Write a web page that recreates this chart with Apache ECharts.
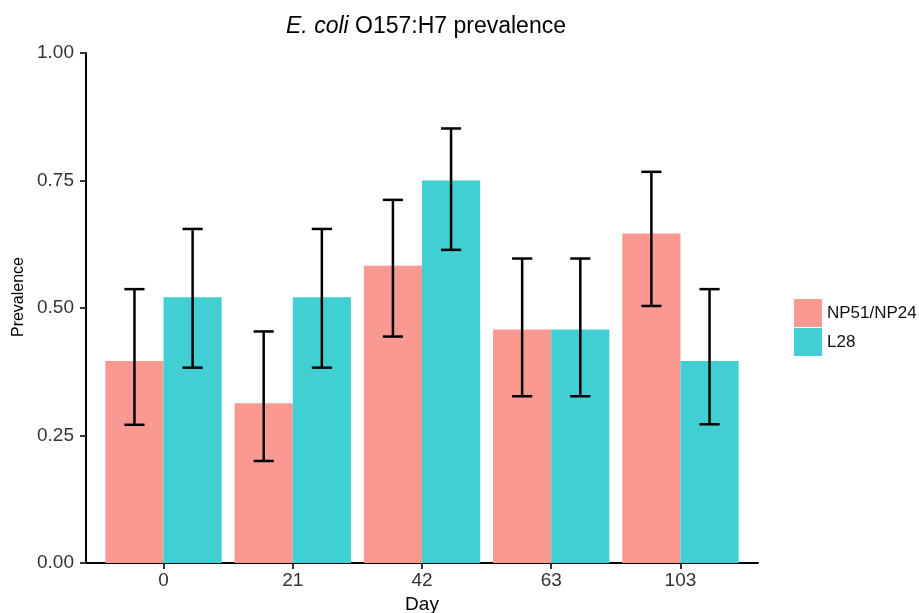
<!DOCTYPE html>
<html>
<head>
<meta charset="utf-8">
<script src="https://cdn.jsdelivr.net/npm/echarts@6/dist/echarts.min.js"></script>
<style>
  html, body { margin: 0; padding: 0; background: #fff; }
  #main { width: 919px; height: 613px; }
</style>
</head>
<body>
<div id="main"></div>
<script>
// data
var days = ['0', '21', '42', '63', '103'];
var np51 = [0.396, 0.313, 0.583, 0.458, 0.646];
var np51Lo = [0.271, 0.200, 0.444, 0.327, 0.504];
var np51Hi = [0.537, 0.454, 0.712, 0.597, 0.767];
var l28 = [0.521, 0.521, 0.750, 0.458, 0.396];
var l28Lo = [0.383, 0.383, 0.614, 0.327, 0.272];
var l28Hi = [0.655, 0.655, 0.852, 0.597, 0.537];
var yTicks = [0, 0.25, 0.5, 0.75, 1];

var font = 'Liberation Sans';
var barHalf = 0.225;   // dodge 0.9 / 2 bars
var capHalf = 0.078;

function makeData(vals, lo, hi) {
  var out = [];
  for (var i = 0; i < vals.length; i++) {
    out.push([i + 1, vals[i], lo[i], hi[i]]);
  }
  return out;
}

function barRenderer(offset) {
  return function (params, api) {
    var x = api.value(0) + offset;
    var p1 = api.coord([x - barHalf, api.value(1)]);
    var p2 = api.coord([x + barHalf, 0]);
    var top = api.coord([x, api.value(3)]);
    var bot = api.coord([x, api.value(2)]);
    var cl = api.coord([x - capHalf, api.value(3)]);
    var cr = api.coord([x + capHalf, api.value(3)]);
    var lineStyle = { stroke: '#000', lineWidth: 2.5 };
    return {
      type: 'group',
      children: [
        {
          type: 'rect',
          shape: { x: p1[0], y: p1[1], width: p2[0] - p1[0], height: p2[1] - p1[1] },
          style: { fill: api.visual('color') }
        },
        { type: 'line', shape: { x1: top[0], y1: top[1], x2: bot[0], y2: bot[1] }, style: lineStyle },
        { type: 'line', shape: { x1: cl[0], y1: top[1], x2: cr[0], y2: top[1] }, style: lineStyle },
        { type: 'line', shape: { x1: cl[0], y1: bot[1], x2: cr[0], y2: bot[1] }, style: lineStyle }
      ]
    };
  };
}

var mychart = echarts.init(document.getElementById('main'));
var option = {
  animation: false,
  backgroundColor: '#fff',
  title: {
    text: '{i|E. coli}{n| O157:H7 prevalence}',
    left: 421,
    textAlign: 'center',
    top: 10,
    textStyle: {
      rich: {
        i: { fontFamily: font, fontStyle: 'italic', fontWeight: 'normal', fontSize: 23, color: '#000' },
        n: { fontFamily: font, fontWeight: 'normal', fontSize: 23, color: '#000' }
      }
    }
  },
  legend: {
    orient: 'vertical',
    left: 789,
    top: 294,
    itemWidth: 28,
    itemHeight: 28,
    itemGap: 1,
    icon: 'rect',
    textStyle: { fontFamily: font, fontSize: 17, color: '#111' },
    data: ['NP51/NP24', 'L28']
  },
  grid: { left: 86, right: 161, top: 53, bottom: 50, outerBoundsMode: 'none', containLabel: false },
  xAxis: {
    type: 'value',
    min: 0.4,
    max: 5.6,
    name: 'Day',
    nameLocation: 'middle',
    nameGap: 32,
    nameTextStyle: { fontFamily: font, fontSize: 19, color: '#000' },
    splitLine: { show: false },
    axisLine: { show: true, lineStyle: { color: '#000', width: 2 } },
    axisTick: { show: true, length: 6, customValues: [1, 2, 3, 4, 5], lineStyle: { color: '#333', width: 2 } },
    axisLabel: {
      customValues: [1, 2, 3, 4, 5],
      formatter: function (v) { return days[Math.round(v) - 1]; },
      fontFamily: font, fontSize: 19, color: '#333', margin: 8
    }
  },
  yAxis: {
    type: 'value',
    min: 0,
    max: 1,
    interval: 0.25,
    name: 'Prevalence',
    nameLocation: 'middle',
    nameGap: 57,
    nameTextStyle: { fontFamily: font, fontSize: 16, color: '#000', padding: [0, 0, 0, 22] },
    splitLine: { show: false },
    axisLine: { show: true, lineStyle: { color: '#000', width: 2 } },
    axisTick: { show: true, length: 6, customValues: yTicks, lineStyle: { color: '#333', width: 2 } },
    axisLabel: {
      customValues: yTicks,
      formatter: function (v) { return v.toFixed(2); },
      fontFamily: font, fontSize: 19, color: '#333', margin: 12
    }
  },
  series: [
    {
      name: 'NP51/NP24',
      type: 'custom',
      itemStyle: { color: '#FA9892' },
      renderItem: barRenderer(-barHalf),
      encode: { x: 0, y: [1, 2, 3] },
      data: makeData(np51, np51Lo, np51Hi)
    },
    {
      name: 'L28',
      type: 'custom',
      itemStyle: { color: '#40CFD3' },
      renderItem: barRenderer(barHalf),
      encode: { x: 0, y: [1, 2, 3] },
      data: makeData(l28, l28Lo, l28Hi)
    }
  ]
};
mychart.setOption(option);
</script>
</body>
</html>
